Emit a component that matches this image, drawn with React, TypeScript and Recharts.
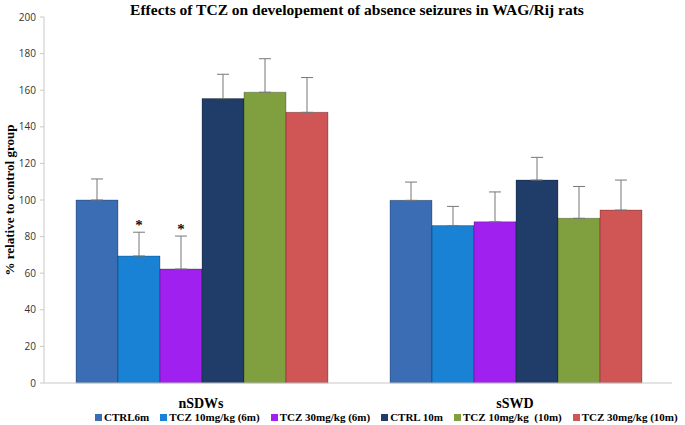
import React from "react"
import {
  BarChart,
  Bar,
  XAxis,
  YAxis,
  Legend,
  ErrorBar,
  LabelList,
} from "recharts"

const categories = ["nSDWs", "sSWD"]

const ctrl6m = [100, 99.8]
const tcz10_6m = [69.4, 86]
const tcz30_6m = [62.3, 88.1]
const ctrl10m = [155.4, 110.9]
const tcz10_10m = [158.9, 90]
const tcz30_10m = [147.9, 94.5]

const ctrl6mErr = [11.5, 10]
const tcz10_6mErr = [13, 10.5]
const tcz30_6mErr = [18, 16.3]
const ctrl10mErr = [13.3, 12.4]
const tcz10_10mErr = [18.3, 17.4]
const tcz30_10mErr = [19, 16.4]

const tcz10_6mSig = ["*", ""]
const tcz30_6mSig = ["*", ""]

const yTicks = [0, 20, 40, 60, 80, 100, 120, 140, 160, 180, 200]

const series = [
  { key: "ctrl6m", name: "CTRL6m", values: ctrl6m, err: ctrl6mErr, color: "#3a6db3", sig: null },
  { key: "tcz10_6m", name: "TCZ 10mg/kg (6m)", values: tcz10_6m, err: tcz10_6mErr, color: "#1a82d4", sig: tcz10_6mSig },
  { key: "tcz30_6m", name: "TCZ 30mg/kg (6m)", values: tcz30_6m, err: tcz30_6mErr, color: "#a020f0", sig: tcz30_6mSig },
  { key: "ctrl10m", name: "CTRL 10m", values: ctrl10m, err: ctrl10mErr, color: "#1f3d68", sig: null },
  { key: "tcz10_10m", name: "TCZ 10mg/kg  (10m)", values: tcz10_10m, err: tcz10_10mErr, color: "#80a040", sig: null },
  { key: "tcz30_10m", name: "TCZ 30mg/kg (10m)", values: tcz30_10m, err: tcz30_10mErr, color: "#d05555", sig: null },
]

const data = categories.map((c, i) => {
  const row: Record<string, any> = { name: c }
  series.forEach((s) => {
    row[s.key] = s.values[i]
    row[s.key + "Err"] = [0, s.err[i]]
  })
  return row
})

const serif = "'Liberation Serif', 'Times New Roman', serif"

function sigLabel(sig: string[], err: number[]) {
  return (props: any) => {
    const { x, y, width, height, index, value } = props
    const mark = sig[index]
    if (!mark) return null
    const errPx = (height / value) * err[index]
    return (
      <text
        x={x + width / 2}
        y={y - errPx - 2}
        textAnchor="middle"
        fontFamily={serif}
        fontWeight="bold"
        fontSize={15}
        fill="#111"
      >
        {mark}
      </text>
    )
  }
}

function LegendContent() {
  return (
    <div
      style={{
        display: "flex",
        justifyContent: "flex-start",
        alignItems: "center",
        paddingLeft: 95,
        fontFamily: serif,
        fontWeight: "bold",
        fontSize: 11,
        color: "#000",
        whiteSpace: "pre",
        lineHeight: "16px",
      }}
    >
      {series.map((s) => (
        <span key={s.key} style={{ display: "flex", alignItems: "center", marginRight: 11 }}>
          <span
            style={{
              display: "inline-block",
              width: 7,
              height: 7,
              background: s.color,
              marginRight: 2,
            }}
          />
          {s.name}
        </span>
      ))}
    </div>
  )
}

export default function App() {
  return (
    <div style={{ position: "fixed", left: 0, top: 0, width: 685, height: 425, background: "#fff" }}>
      <div
        style={{
          position: "absolute",
          left: 0,
          width: 714,
          top: 0,
          textAlign: "center",
          fontFamily: serif,
          fontWeight: "bold",
          fontSize: 15.5,
          color: "#000",
          lineHeight: "20px",
        }}
      >
        Effects of TCZ on developement of absence seizures in WAG/Rij rats
      </div>
      <BarChart
        width={685}
        height={425}
        data={data}
        margin={{ top: 17, right: 13, left: 0, bottom: 0 }}
        barCategoryGap={32}
        barGap={0}
      >
        <YAxis
          width={44}
          domain={[0, 200]}
          ticks={yTicks}
          tick={{ fontSize: 10, fill: "#333", fontFamily: "'Open Sans', sans-serif" }}
          tickSize={4}
          tickMargin={4}
          axisLine={{ stroke: "#c8c8c8" }}
          tickLine={{ stroke: "#c8c8c8" }}
          label={{
            value: "% relative to control group",
            angle: -90,
            position: "insideLeft",
            offset: 9,
            style: { textAnchor: "middle", fontFamily: serif, fontWeight: "bold", fontSize: 13, fill: "#000" },
          }}
        />
        <XAxis
          dataKey="name"
          height={26}
          tickLine={false}
          axisLine={{ stroke: "#c8c8c8" }}
          tick={{ fontSize: 14, fill: "#000", fontFamily: serif, fontWeight: "bold" }}
          tickMargin={9}
        />
        <Legend
          verticalAlign="bottom"
          height={16}
          content={<LegendContent />}
          wrapperStyle={{ left: 0, width: 685 }}
        />
        {series.map((s) => (
          <Bar
            key={s.key}
            dataKey={s.key}
            name={s.name}
            fill={s.color}
            stroke="rgba(0,0,0,0.25)"
            strokeWidth={1}
            isAnimationActive={false}
          >
            <ErrorBar dataKey={s.key + "Err"} direction="y" width={6} stroke="#777" strokeWidth={1} />
            {s.sig && <LabelList dataKey={s.key} content={sigLabel(s.sig, s.err)} />}
          </Bar>
        ))}
      </BarChart>
    </div>
  )
}
